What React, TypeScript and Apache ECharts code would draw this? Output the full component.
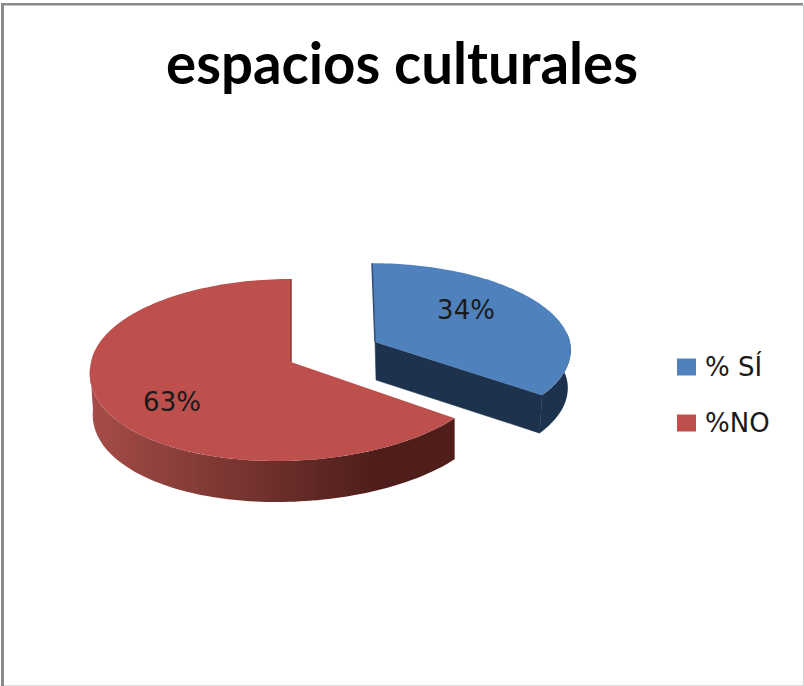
import React, { useEffect, useRef } from "react";
import * as echarts from "echarts";

const titleText = "espacios culturales";
const categories = ["% SÍ", "%NO"];
const values = [34, 63];
const topColors = ["#4f81bd", "#bd504c"];

// Drawing parameters of each exploded slice (perspective projection of a disc)
const sliceGeometry = [
  { cx: 375, cy: 342, rx: 195, ry: 85.5, k: 0.085, shear: 3, frontShear: 3, depth: 38, inset: 3, labelX: 466, labelY: 310 },
  { cx: 291, cy: 362, rx: 200, ry: 90.3, k: 0.088, shear: 0, frontShear: -14.6, depth: 41, inset: 0, labelX: 172, labelY: 402 },
];

const total = values.reduce((a, b) => a + b, 0);
const rad = (d: number) => (d * Math.PI) / 180;

function project(g: any, deg: number, r = 1, lowered = false): number[] {
  const u = Math.sin(rad(deg)) * r;
  const v = -Math.cos(rad(deg)) * r;
  const s = 1 / (1 - g.k * v);
  const lean = v > 0 ? g.frontShear * Math.pow(v, 1.5) : g.shear * v;
  let x = g.cx + g.rx * u * s + lean;
  const y = g.cy + g.ry * v * s + (lowered ? g.depth : 0);
  if (lowered) {
    x += u < 0 ? -u * 3 : -u * g.inset;
  }
  return [x, y];
}

function arc(g: any, from: number, to: number, lowered = false): number[][] {
  const n = Math.max(2, Math.ceil(Math.abs(to - from) / 1.5));
  const pts: number[][] = [];
  for (let i = 0; i <= n; i++) pts.push(project(g, from + ((to - from) * i) / n, 1, lowered));
  return pts;
}

function makeSeries() {
  let acc = 0;
  return categories.map((name, idx) => {
    const start = (acc / total) * 360;
    acc += values[idx];
    const end = (acc / total) * 360;
    const g = sliceGeometry[idx];
    const renderItem = (_p: any, api: any) => {
      const value = api.value(0);
      const apex = [g.cx, g.cy];
      const children: any[] = [];
      const sideFill =
        idx === 0
          ? "#1d324c"
          : new echarts.graphic.LinearGradient(
              g.cx - g.rx,
              0,
              372,
              0,
              [
                { offset: 0, color: "#a64c48" },
                { offset: 0.5, color: "#7a3632" },
                { offset: 1, color: "#4f1e1b" },
              ],
              true,
            );
      const sideFrom = Math.max(start, 84);
      const sideTo = Math.min(end, 266);
      children.push({
        type: "polygon",
        shape: { points: [...arc(g, sideFrom, sideTo), ...arc(g, sideTo, sideFrom, true)] },
        style: { fill: sideFill },
      });
      if (end < 180) {
        const corner = project(g, end);
        const cornerLow = project(g, end, 1, true);
        children.push({
          type: "polygon",
          shape: { points: [apex, corner, cornerLow, [g.cx + 1, g.cy + g.depth]] },
          style: { fill: "#1d324c", stroke: "#1d324c", lineWidth: 0.5 },
        });
      }
      children.push({
        type: "polygon",
        shape: { points: [apex, ...arc(g, start, end)] },
        style: { fill: topColors[idx] },
      });
      const edgeAngle = idx === 0 ? start : end;
      children.push({
        type: "polyline",
        shape: { points: [apex, project(g, edgeAngle)] },
        style: { stroke: idx === 0 ? "#2f4f78" : "#8a3a37", lineWidth: 1.5, fill: "none" },
      });
      children.push({
        type: "text",
        style: {
          text: `${value}%`,
          x: g.labelX,
          y: g.labelY,
          fill: "#1a1a1a",
          font: '26px "DejaVu Sans"',
          textAlign: "center",
          textVerticalAlign: "middle",
        },
      });
      return { type: "group", children };
    };
    return {
      type: "custom" as const,
      name,
      coordinateSystem: "none",
      silent: true,
      itemStyle: { color: topColors[idx] },
      data: [[values[idx]]],
      renderItem,
    };
  });
}

export default function App() {
  const ref = useRef<HTMLDivElement>(null);
  useEffect(() => {
    if (!ref.current) return;
    const chart = echarts.init(ref.current, undefined, { renderer: "svg" });
    chart.setOption({
      animation: false,
      backgroundColor: "#ffffff",
      title: {
        text: titleText,
        left: "center",
        top: 29,
        textStyle: { fontFamily: "Lato", fontWeight: "bold", fontSize: 56.4, color: "#000000" },
      },
      legend: {
        orient: "vertical",
        left: 672,
        top: 349,
        icon: "rect",
        itemWidth: 19,
        itemHeight: 17,
        itemGap: 30,
        selectedMode: false,
        data: categories,
        textStyle: { fontFamily: "DejaVu Sans", fontSize: 26, color: "#1a1a1a", padding: [0, 0, 0, 4] },
      },
      graphic: [
        { type: "rect", shape: { x: 1, y: 3, width: 802, height: 2.5 }, style: { fill: "#8a8a8a" } },
        { type: "rect", shape: { x: 1, y: 3, width: 3, height: 683 }, style: { fill: "#8a8a8a" } },
        { type: "rect", shape: { x: 4, y: 685, width: 800, height: 1 }, style: { fill: "#dddddd" } },
        { type: "rect", shape: { x: 803, y: 5, width: 1, height: 681 }, style: { fill: "#d0d0d0" } },
      ],
      series: makeSeries(),
    });
    return () => chart.dispose();
  }, []);
  return <div ref={ref} style={{ position: "fixed", left: 0, top: 0, width: 804, height: 686 }} />;
}
